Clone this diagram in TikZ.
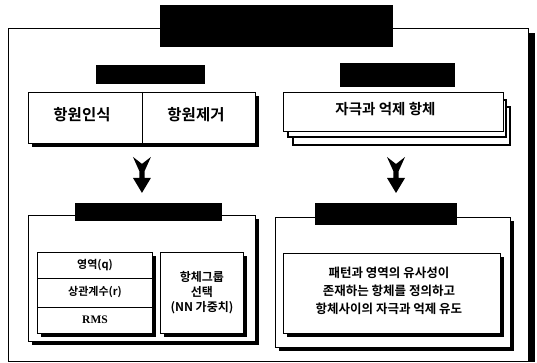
\documentclass[tikz,border=0pt]{standalone}
\usepackage{fontspec}
\setmainfont{Noto Sans CJK KR}[BoldFont={Noto Sans CJK KR Bold}]
\newfontfamily\latserif{Liberation Serif}
\usetikzlibrary{shadows,calc}
\tikzset{
  box/.style={draw, line width=0.9pt, fill=white, inner sep=0pt, anchor=north west},
  shbox/.style={box, drop shadow={shadow xshift=3.5pt, shadow yshift=-3.5pt, fill=black, opacity=1}},
  layer/.style={draw, line width=2pt, fill=white},
  banner/.style={fill=black, inner sep=0pt, anchor=north west},
  bigtxt/.style={font=\bfseries\fontsize{15.5}{18}\selectfont, inner sep=0pt},
  smalltxt/.style={font=\bfseries\fontsize{11}{14}\selectfont, inner sep=0pt, align=center},
  arrowshape/.style={fill=black}
}
\begin{document}
\begin{tikzpicture}[x=1pt,y=-1pt]
\useasboundingbox (0,0) rectangle (537,363);
% outer frame
\fill (528,33) rectangle (535,362);
\node[box, minimum width=520pt, minimum height=333pt] (frame) at (8,28) {};
% title banner
\node[banner, minimum width=233pt, minimum height=42pt] (title) at (160,5) {};
% top header banners
\node[banner, minimum width=109pt, minimum height=19pt] (lhb) at (96,65) {};
\node[banner, minimum width=115pt, minimum height=24pt] (rhb) at (340,63) {};
% left top box
\node[shbox, minimum width=227pt, minimum height=51pt] (lt) at (28,92) {};
\draw[line width=0.9pt] (lt.north) -- (lt.south);
\node[bigtxt] (t1) at (82,115) {항원인식};
\node[bigtxt] (t2) at (196,115) {항원제거};
% right top box with stacked layers
\draw[layer] (293,107) rectangle (510,145);
\draw[layer] (288,100) rectangle (506,137);
\node[box, minimum width=220pt, minimum height=39pt] (rt) at (283,92) {};
\node[bigtxt, font=\bfseries\fontsize{14.5}{17}\selectfont] (t3) at ($(rt.center)+(-8,-3)$) {자극과 억제 항체};
% arrows
\coordinate (a1) at ($(lt.south)+(0,13)$);
\coordinate (a2) at (396,157);
\foreach \c in {a1,a2}{
  \fill[arrowshape, shift={(\c)}] (-9,0) -- (0,7) -- (9,0) -- (2.7,14) -- (2.7,21) -- (9,21) -- (0,36) -- (-9,21) -- (-2.7,21) -- (-2.7,14) -- cycle;
}
% lower left
\node[shbox, minimum width=227pt, minimum height=126pt] (ll) at (28,215) {};
\node[banner, minimum width=147pt, minimum height=18pt] (lb) at (75,203) {};
\node[shbox, minimum width=115pt, minimum height=81pt] (st) at (37,252) {};
\draw[line width=0.9pt] (37,278) -- (152,278);
\draw[line width=0.9pt] (37,307) -- (152,307);
\node[smalltxt] (s1) at (95,265) {영역(q)};
\node[smalltxt] (s2) at (95,292) {상관계수(r)};
\node[smalltxt, font=\latserif\bfseries\fontsize{11.5}{14}\selectfont] (s3) at (95,320) {RMS};
\node[shbox, minimum width=83pt, minimum height=81pt] (sel) at (160,252) {};
\node[smalltxt, font=\bfseries\fontsize{12}{15}\selectfont] (s4) at (sel.center) {항체그룹\\선택\\(NN 가중치)};
% lower right
\node[shbox, minimum width=235pt, minimum height=130pt] (lr) at (275,217) {};
\node[banner, minimum width=142pt, minimum height=22pt] (rb) at (315,203) {};
\node[shbox, minimum width=217pt, minimum height=80pt] (ir) at (283,253) {};
\node[smalltxt, font=\bfseries\fontsize{12.5}{18}\selectfont] (s5) at ($(ir.center)+(-3,-3)$) {패턴과 영역의 유사성이\\존재하는 항체를 정의하고\\항체사이의 자극과 억제 유도};
\end{tikzpicture}
\end{document}
